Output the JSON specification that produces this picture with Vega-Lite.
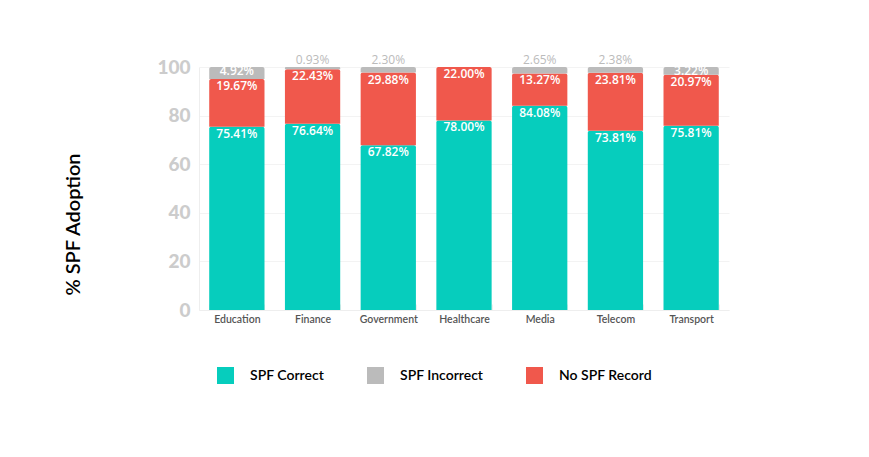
{
  "$schema": "https://vega.github.io/schema/vega-lite/v6.json",
  "width": 530,
  "height": 243,
  "autosize": {"type": "none"},
  "padding": {"left": 199, "top": 67, "right": 140, "bottom": 147},
  "background": "white",
  "config": {"view": {"stroke": null}, "font": "Lato"},
  "data": {"values": [
    {"sector": "Education", "series": "SPF Correct", "rank": 1, "value": 75.41},
    {"sector": "Education", "series": "No SPF Record", "rank": 2, "value": 19.67},
    {"sector": "Education", "series": "SPF Incorrect", "rank": 3, "value": 4.92},
    {"sector": "Finance", "series": "SPF Correct", "rank": 1, "value": 76.64},
    {"sector": "Finance", "series": "No SPF Record", "rank": 2, "value": 22.43},
    {"sector": "Finance", "series": "SPF Incorrect", "rank": 3, "value": 0.93},
    {"sector": "Government", "series": "SPF Correct", "rank": 1, "value": 67.82},
    {"sector": "Government", "series": "No SPF Record", "rank": 2, "value": 29.88},
    {"sector": "Government", "series": "SPF Incorrect", "rank": 3, "value": 2.30},
    {"sector": "Healthcare", "series": "SPF Correct", "rank": 1, "value": 78.00},
    {"sector": "Healthcare", "series": "No SPF Record", "rank": 2, "value": 22.00},
    {"sector": "Media", "series": "SPF Correct", "rank": 1, "value": 84.08},
    {"sector": "Media", "series": "No SPF Record", "rank": 2, "value": 13.27},
    {"sector": "Media", "series": "SPF Incorrect", "rank": 3, "value": 2.65},
    {"sector": "Telecom", "series": "SPF Correct", "rank": 1, "value": 73.81},
    {"sector": "Telecom", "series": "No SPF Record", "rank": 2, "value": 23.81},
    {"sector": "Telecom", "series": "SPF Incorrect", "rank": 3, "value": 2.38},
    {"sector": "Transport", "series": "SPF Correct", "rank": 1, "value": 75.81},
    {"sector": "Transport", "series": "No SPF Record", "rank": 2, "value": 20.97},
    {"sector": "Transport", "series": "SPF Incorrect", "rank": 3, "value": 3.22}
  ]},
  "transform": [
    {"stack": "value", "groupby": ["sector"], "sort": [{"field": "rank", "order": "ascending"}], "as": ["v0", "v1"]},
    {"calculate": "format(datum.value, '.2f') + '%'", "as": "label"}
  ],
  "encoding": {
    "x": {
      "field": "sector", "type": "nominal", "sort": null,
      "scale": {"paddingInner": 0.27, "paddingOuter": 0.135},
      "axis": {
        "title": null, "labelAngle": 0, "labelFontSize": 10.5, "labelFontWeight": 600,
        "labelColor": "#555555", "labelPadding": 10,
        "domainColor": "#eeeeee", "tickColor": "#eeeeee", "tickBand": "extent", "tickSize": -6
      }
    }
  },
  "layer": [
    {
      "mark": {"type": "bar", "cornerRadiusTopLeft": 2, "cornerRadiusTopRight": 2},
      "encoding": {
        "y": {
          "field": "v0", "type": "quantitative",
          "scale": {"domain": [0, 100], "nice": false},
          "axis": {
            "title": "% SPF Adoption", "titleFontSize": 20, "titleFontWeight": 600, "titleColor": "#000000",
            "titleX": -126, "titleY": 157, "titleAngle": -90, "titleAlign": "center", "titleBaseline": "middle",
            "values": [0, 20, 40, 60, 80, 100], "labelFontSize": 19, "labelFontWeight": 900,
            "labelColor": "#cccccc", "labelPadding": 9, "ticks": false,
            "domainColor": "#eeeeee", "gridColor": "#f3f3f3"
          }
        },
        "y2": {"field": "v1"},
        "color": {
          "field": "series", "type": "nominal",
          "scale": {"domain": ["SPF Correct", "SPF Incorrect", "No SPF Record"], "range": ["#06CDBD", "#BBBBBB", "#F0584C"]},
          "legend": {
            "title": null, "orient": "none", "direction": "horizontal", "legendX": 18, "legendY": 300,
            "padding": 0, "symbolType": "square", "symbolSize": 289, "symbolStrokeWidth": 0,
            "labelFontSize": 14, "labelFontWeight": 600, "labelColor": "#000000", "labelOffset": 16,
            "columnPadding": 42
          }
        }
      }
    },
    {
      "transform": [{"filter": "datum.rank < 3"}],
      "mark": {"type": "text", "baseline": "top", "dy": 2, "font": "Open Sans", "fontSize": 12, "fontWeight": 600, "color": "white"},
      "encoding": {
        "y": {"field": "v1", "type": "quantitative"},
        "text": {"field": "label", "type": "nominal"}
      }
    },
    {
      "transform": [{"filter": "datum.rank == 3 && datum.value >= 3"}],
      "mark": {"type": "text", "baseline": "top", "dy": -1, "font": "Open Sans", "fontSize": 12, "fontWeight": 600, "color": "white"},
      "encoding": {
        "y": {"field": "v1", "type": "quantitative"},
        "text": {"field": "label", "type": "nominal"}
      }
    },
    {
      "transform": [{"filter": "datum.rank == 3 && datum.value < 3"}],
      "mark": {"type": "text", "baseline": "alphabetic", "dy": -3, "font": "Open Sans", "fontSize": 12, "fontWeight": "normal", "color": "#bbbbbb"},
      "encoding": {
        "y": {"field": "v1", "type": "quantitative"},
        "text": {"field": "label", "type": "nominal"}
      }
    }
  ]
}
